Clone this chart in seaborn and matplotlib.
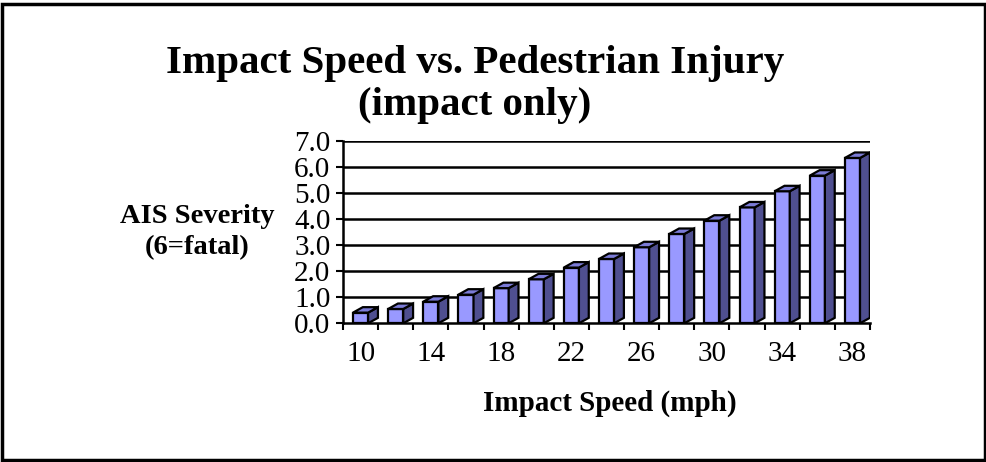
import matplotlib
matplotlib.use('Agg')
import matplotlib.pyplot as plt
from matplotlib.patches import Polygon, Rectangle
from matplotlib.ticker import FixedLocator
import seaborn as sns
import pandas as pd

# impact speed (mph) and AIS severity
speeds = [10, 12, 14, 16, 18, 20, 22, 24, 26, 28, 30, 32, 34, 36, 38]
severity = [0.41, 0.55, 0.83, 1.10, 1.35, 1.69, 2.14, 2.47, 2.92, 3.43,
            3.94, 4.45, 5.07, 5.67, 6.35]
y_ticks = [0.0, 1.0, 2.0, 3.0, 4.0, 5.0, 6.0, 7.0]


def draw_depth(ax, dx, dy, top_color, side_color):
    '''
    Adds the top and side faces to every bar so they look like
    Excel 3-D columns.
    '''
    for p in list(ax.patches):
        x0 = p.get_x()
        w = p.get_width()
        h = p.get_height()
        x1 = x0 + w
        side = Polygon([(x1, 0), (x1 + dx, dy), (x1 + dx, h + dy), (x1, h)],
                       closed=True, facecolor=side_color, edgecolor='black',
                       linewidth=1.6, zorder=3)
        top = Polygon([(x0, h), (x0 + dx, h + dy), (x1 + dx, h + dy),
                       (x1, h)], closed=True, facecolor=top_color,
                      edgecolor='black', linewidth=1.6, zorder=3)
        ax.add_patch(side)
        ax.add_patch(top)


def main():
    sns.set_style('white')
    plt.rcParams['font.family'] = ['Liberation Serif', 'DejaVu Serif']
    plt.rcParams['text.color'] = 'black'
    plt.rcParams['xtick.color'] = 'black'
    plt.rcParams['ytick.color'] = 'black'
    plt.rcParams['axes.labelcolor'] = 'black'

    df = pd.DataFrame({'speed': speeds, 'ais': severity})

    fig = plt.figure(figsize=(9.87, 4.62), dpi=100)
    ax = fig.add_axes([0.3475, 0.3002, 0.534, 0.3946])

    sns.barplot(data=df, x='speed', y='ais', color='#9999ff', saturation=1,
                edgecolor='black', linewidth=1.6, width=0.43, ax=ax,
                zorder=3)
    draw_depth(ax, 0.28, 0.21, '#7b7bd6', '#4f4f90')

    ax.set_xlim(-0.5, len(speeds) - 0.5)
    ax.set_ylim(0, 7)

    # horizontal gridlines
    for v in y_ticks[1:]:
        ax.axhline(v, color='black', linewidth=1.8, zorder=1)

    ax.set_yticks(y_ticks)
    ax.set_yticklabels(['%.1f' % v for v in y_ticks], fontsize=21)
    ax.set_xticks(range(0, len(speeds), 2))
    ax.set_xticklabels([str(s) for s in speeds[::2]], fontsize=21)
    ax.xaxis.set_minor_locator(
        FixedLocator([i - 0.5 for i in range(len(speeds) + 1)]))
    ax.tick_params(axis='x', which='major', length=0, pad=13)
    ax.tick_params(axis='x', which='minor', length=5, width=1.5,
                   direction='out', color='black', bottom=True)
    ax.tick_params(axis='y', length=5, width=1.5, direction='out',
                   color='black', left=True, pad=4)

    for side in ['top', 'right']:
        ax.spines[side].set_visible(False)
    for side in ['left', 'bottom']:
        ax.spines[side].set_color('black')
        ax.spines[side].set_linewidth(1.8)
        ax.spines[side].set_zorder(4)

    ax.set_xlabel('')
    ax.set_ylabel('')

    fig.text(0.481, 0.818, 'Impact Speed vs. Pedestrian Injury\n(impact only)',
             ha='center', va='center', fontsize=29.5, fontweight='bold',
             linespacing=1.18)
    fig.text(0.2, 0.498, 'AIS Severity\n(6=fatal)', ha='center',
             va='center', fontsize=20.5, fontweight='bold', linespacing=1.3)
    fig.text(0.618, 0.128, 'Impact Speed (mph)', ha='center', va='center',
             fontsize=21, fontweight='bold')

    # border around the whole chart
    fig.patches.append(Rectangle((0.002, 0.004), 0.996, 0.988,
                                 transform=fig.transFigure, fill=False,
                                 edgecolor='black', linewidth=2.5))

    plt.savefig('out.png', dpi=100)


if __name__ == '__main__':
    main()
